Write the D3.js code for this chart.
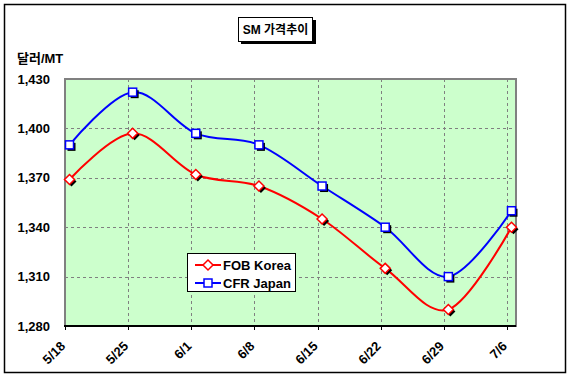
<!DOCTYPE html>
<html>
<head>
<meta charset="utf-8">
<script src="https://cdn.jsdelivr.net/npm/d3@7"></script>
<style>
  body { margin: 0; background: #fff; }
  text { font-family: "Liberation Sans", "Noto Sans CJK KR", Arial, sans-serif; font-weight: bold; font-size: 13px; }
</style>
</head>
<body>
<div id="chart"></div>
<script>
// data
var dates = ["5/18", "5/25", "6/1", "6/8", "6/15", "6/22", "6/29", "7/6"];
var fobKorea = [1369, 1397, 1372, 1365, 1345, 1315, 1290, 1340];
var cfrJapan = [1390, 1422, 1397, 1390, 1365, 1340, 1310, 1350];
var yTicks = [1280, 1310, 1340, 1370, 1400, 1430];

var W = 572, H = 382;
var plot = {left: 65, top: 79, right: 516, bottom: 326};

var svg = d3.select("#chart").append("svg")
    .attr("width", W)
    .attr("height", H);

function toDate(s) {
  var p = s.split("/");
  return new Date(Date.UTC(2007, +p[0] - 1, +p[1]));
}
var DAY = 864e5;

// date axis: 5/18 .. one day past 7/6, points sit in the middle of their day
var x = d3.scaleUtc()
    .domain([toDate(dates[0]), new Date(+toDate(dates[dates.length - 1]) + DAY)])
    .range([plot.left, plot.right]);

var y = d3.scaleLinear()
    .domain([1280, 1430])
    .range([plot.bottom, plot.top]);

// outer frame
svg.append("rect")
    .attr("x", 4.5).attr("y", 4.5)
    .attr("width", 561).attr("height", 368)
    .attr("fill", "#fff")
    .attr("stroke", "#000")
    .attr("stroke-width", 1.5);

// title box with shadow
svg.append("rect")
    .attr("x", 241).attr("y", 20)
    .attr("width", 75).attr("height", 24)
    .attr("fill", "#000");
svg.append("rect")
    .attr("x", 238.5).attr("y", 17.5)
    .attr("width", 74).attr("height", 24)
    .attr("fill", "#fff")
    .attr("stroke", "#000");
svg.append("text")
    .attr("x", 275.5).attr("y", 34)
    .attr("text-anchor", "middle")
    .style("font-size", "12px")
    .text("SM 가격추이");

// unit label
svg.append("text")
    .attr("x", 17).attr("y", 63)
    .text("달러/MT");

// plot area
svg.append("rect")
    .attr("x", plot.left).attr("y", plot.top)
    .attr("width", plot.right - plot.left)
    .attr("height", plot.bottom - plot.top)
    .attr("fill", "#ccffcc")
    .attr("stroke", "#808080")
    .attr("stroke-width", 2);

// gridlines
svg.append("g")
  .selectAll("line")
  .data(yTicks.slice(1, -1))
  .enter().append("line")
    .attr("x1", plot.left).attr("x2", plot.right)
    .attr("y1", function(d) { return Math.round(y(d)) + 0.5; })
    .attr("y2", function(d) { return Math.round(y(d)) + 0.5; })
    .attr("stroke", "#808080")
    .attr("stroke-dasharray", "3,3");

svg.append("g")
  .selectAll("line")
  .data(dates.slice(1))
  .enter().append("line")
    .attr("x1", function(d) { return Math.round(x(toDate(d))) + 0.5; })
    .attr("x2", function(d) { return Math.round(x(toDate(d))) + 0.5; })
    .attr("y1", plot.top).attr("y2", plot.bottom)
    .attr("stroke", "#808080")
    .attr("stroke-dasharray", "3,3");

// x axis line + ticks
svg.append("line")
    .attr("x1", plot.left - 1).attr("x2", plot.right)
    .attr("y1", plot.bottom).attr("y2", plot.bottom)
    .attr("stroke", "#000")
    .attr("stroke-width", 2);

svg.append("g")
  .selectAll("line")
  .data(dates)
  .enter().append("line")
    .attr("x1", function(d) { return Math.round(x(toDate(d))) + 0.5; })
    .attr("x2", function(d) { return Math.round(x(toDate(d))) + 0.5; })
    .attr("y1", plot.bottom).attr("y2", plot.bottom + 4)
    .attr("stroke", "#000");

// x labels, rotated
svg.append("g")
  .selectAll("text")
  .data(dates)
  .enter().append("text")
    .attr("text-anchor", "end")
    .attr("transform", function(d) {
      return "translate(" + (x(toDate(d)) + 1) + "," + (plot.bottom + 21) + ") rotate(-45)";
    })
    .text(function(d) { return d; });

// y labels
var fmt = d3.format(",");
svg.append("g")
  .selectAll("text")
  .data(yTicks)
  .enter().append("text")
    .attr("x", 50)
    .attr("y", function(d) { return y(d); })
    .attr("dy", "0.35em")
    .attr("text-anchor", "end")
    .text(function(d) { return fmt(d); });

// series
var series = [
  {name: "FOB Korea", values: fobKorea, color: "#ff0000", marker: "diamond"},
  {name: "CFR Japan", values: cfrJapan, color: "#0000ff", marker: "square"}
];

var line = d3.line()
    .x(function(d, i) { return x(new Date(+toDate(dates[i]) + DAY / 2)); })
    .y(function(d) { return y(d); })
    .curve(d3.curveCardinal.tension(0));

function drawMarker(g, type, color, cx, cy, shadow) {
  var s;
  if (type === "square") {
    s = g.append("rect")
      .attr("x", cx - 4).attr("y", cy - 4)
      .attr("width", 8).attr("height", 8);
  } else {
    s = g.append("path")
      .attr("d", "M" + cx + "," + (cy - 5) + "L" + (cx + 5) + "," + cy +
                 "L" + cx + "," + (cy + 5) + "L" + (cx - 5) + "," + cy + "Z");
  }
  if (shadow) {
    s.attr("fill", "#000").attr("transform", "translate(2,2)");
  } else {
    s.attr("fill", "#fff").attr("stroke", color).attr("stroke-width", 1.5);
  }
}

series.forEach(function(s) {
  svg.append("path")
    .datum(s.values)
    .attr("d", line)
    .attr("fill", "none")
    .attr("stroke", s.color)
    .attr("stroke-width", 2);
});

series.forEach(function(s) {
  var g = svg.append("g");
  s.values.forEach(function(v, i) {
    var cx = x(new Date(+toDate(dates[i]) + DAY / 2));
    var cy = y(v);
    drawMarker(g, s.marker, s.color, cx, cy, true);
    drawMarker(g, s.marker, s.color, cx, cy, false);
  });
});

// legend
var lg = svg.append("g");
lg.append("rect")
    .attr("x", 187.5).attr("y", 253.5)
    .attr("width", 108).attr("height", 38)
    .attr("fill", "#fff")
    .attr("stroke", "#000");

series.forEach(function(s, i) {
  var ly = 265 + i * 18;
  lg.append("line")
    .attr("x1", 195).attr("x2", 221)
    .attr("y1", ly).attr("y2", ly)
    .attr("stroke", s.color)
    .attr("stroke-width", 2);
  drawMarker(lg, s.marker, s.color, 208, ly, false);
  lg.append("text")
    .attr("x", 223).attr("y", ly + 5)
    .text(s.name);
});
</script>
</body>
</html>
